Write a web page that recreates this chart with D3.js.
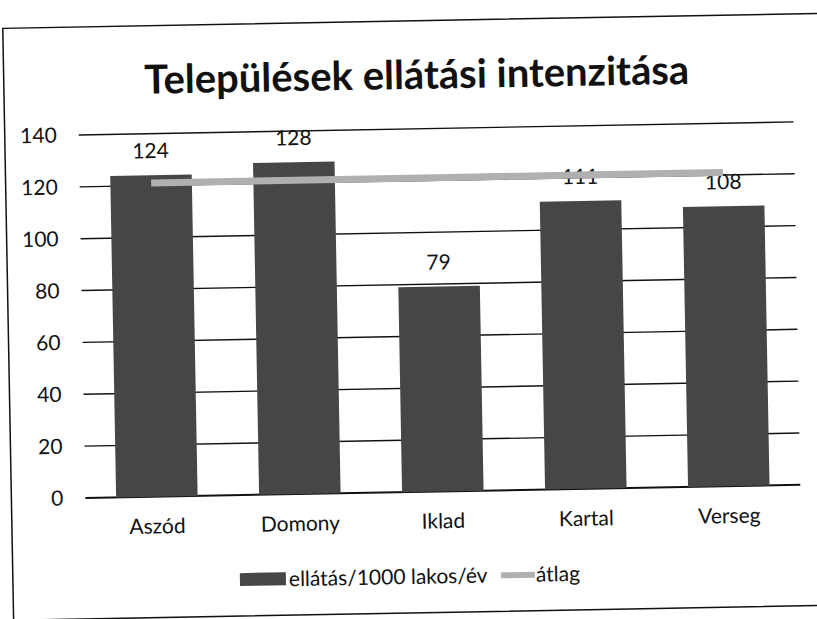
<!DOCTYPE html>
<html>
<head>
<meta charset="utf-8">
<script src="https://cdn.jsdelivr.net/npm/d3@7"></script>
<style>
  body { margin: 0; background: #fff; }
  svg { display: block; }
</style>
</head>
<body>
<svg id="chart"></svg>
<script>
const towns = ["Aszód", "Domony", "Iklad", "Kartal", "Verseg"];
const perThousand = [124, 128, 79, 111, 108];
const averageLine = [121, 121, 121, 121, 121];
const yTicks = [0, 20, 40, 60, 80, 100, 120, 140];
const titleText = "Települések ellátási intenzitása";
const legendBars = "ellátás/1000 lakos/év";
const legendAvg = "átlag";

const width = 817, height = 619;
const font = "Lato, 'Open Sans', sans-serif";

const svg = d3.select("#chart").attr("width", width).attr("height", height);
svg.append("rect").attr("width", width).attr("height", height).attr("fill", "#fff");

// scanned page is slightly tilted
const g = svg.append("g").attr("transform", "rotate(-1.05, 408, 310)");

// chart frame
g.append("rect")
  .attr("x", 8).attr("y", 21)
  .attr("width", 840).attr("height", 592)
  .attr("fill", "none").attr("stroke", "#111").attr("stroke-width", 1.5);

g.append("text")
  .attr("x", 421).attr("y", 89)
  .attr("text-anchor", "middle")
  .style("font-family", font).style("font-weight", "bold").style("font-size", "40px")
  .attr("fill", "#111")
  .text(titleText);

const x = d3.scaleBand().domain(towns).range([82, 797]).paddingInner(0.43).paddingOuter(0.215);
const y = d3.scaleLinear().domain([0, 140]).range([492, 129]);

// gridlines
g.selectAll(".grid")
  .data(yTicks)
  .enter()
  .append("line")
  .attr("x1", 82).attr("x2", 797)
  .attr("y1", d => y(d)).attr("y2", d => y(d))
  .attr("stroke", "#111").attr("stroke-width", d => d === 0 ? 2 : 1.4);

const yAxis = g.append("g")
  .attr("transform", "translate(82,0)")
  .call(d3.axisLeft(y).tickValues(yTicks).tickSize(0).tickPadding(22));
yAxis.select(".domain").remove();
yAxis.selectAll("text")
  .style("font-family", font).style("font-size", "21px").attr("fill", "#111");

const xAxis = g.append("g")
  .attr("transform", "translate(0," + y(0) + ")")
  .call(d3.axisBottom(x).tickSize(0).tickPadding(22));
xAxis.select(".domain").remove();
xAxis.selectAll("text")
  .style("font-family", font).style("font-size", "21px").attr("fill", "#111");

// bars
g.selectAll(".bar")
  .data(perThousand)
  .enter()
  .append("rect")
  .attr("x", (d, i) => x(towns[i]))
  .attr("width", x.bandwidth())
  .attr("y", d => y(d))
  .attr("height", d => y(0) - y(d))
  .attr("fill", "#464646");

// data labels
g.selectAll(".lbl")
  .data(perThousand)
  .enter()
  .append("text")
  .attr("x", (d, i) => x(towns[i]) + x.bandwidth() / 2)
  .attr("y", d => y(d) - 17)
  .attr("text-anchor", "middle")
  .style("font-family", font).style("font-size", "21px")
  .attr("fill", "#111")
  .text(d => d);

// average line
const line = d3.line()
  .x((d, i) => x(towns[i]) + x.bandwidth() / 2)
  .y(d => y(d));
g.append("path")
  .datum(averageLine)
  .attr("d", line)
  .attr("fill", "none")
  .attr("stroke", "#b0b0b0")
  .attr("stroke-width", 7);

// legend
const lg = g.append("g").attr("transform", "translate(235,577)");
lg.append("rect").attr("x", 0).attr("y", -7).attr("width", 46).attr("height", 13).attr("fill", "#464646");
lg.append("text").attr("x", 49).attr("y", 7)
  .style("font-family", font).style("font-size", "21px").attr("fill", "#111")
  .text(legendBars);
lg.append("line").attr("x1", 261).attr("x2", 295).attr("y1", 0).attr("y2", 0)
  .attr("stroke", "#b0b0b0").attr("stroke-width", 6);
lg.append("text").attr("x", 296).attr("y", 7)
  .style("font-family", font).style("font-size", "21px").attr("fill", "#111")
  .text(legendAvg);
</script>
</body>
</html>
